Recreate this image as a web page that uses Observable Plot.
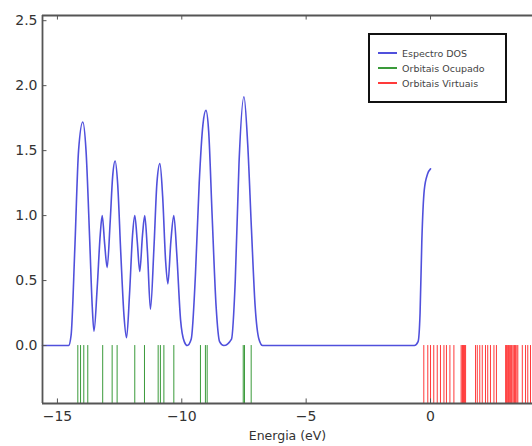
<!DOCTYPE html>
<html><head><meta charset="utf-8">
<script src="https://cdn.jsdelivr.net/npm/d3@7"></script>
<script src="https://cdn.jsdelivr.net/npm/@observablehq/plot@0.6"></script>
<style>
body{margin:0;background:#fff}
#wrap{position:relative;width:532px;height:446px;overflow:hidden}
#legend{position:absolute;left:368px;top:33px;width:139px;height:70px;border:2px solid #111;box-sizing:border-box;background:#fff;font-family:"DejaVu Sans",sans-serif;font-size:9.5px;color:#444}
.row{position:absolute;left:8px;height:14px;display:flex;align-items:center;white-space:nowrap}
.sw{display:inline-block;width:19px;height:1.5px;margin-right:5px}
</style>
</head><body><div id="wrap"></div>
<script>
// DOS curve (energy eV, density)
const dosE = [-15.6,-14.55,-14.45,-14.3,-14.15,-13.98,-13.85,-13.7,-13.6,-13.53,
  -13.4,-13.28,-13.2,-13.1,-13.0,
  -12.88,-12.78,-12.68,-12.58,-12.45,-12.32,-12.22,
  -12.1,-11.98,-11.89,-11.79,-11.69,
  -11.58,-11.49,-11.38,-11.26,
  -11.12,-11.0,-10.88,-10.77,-10.65,-10.56,
  -10.44,-10.32,-10.2,-10.05,-9.9,-9.78,-9.62,
  -9.45,-9.3,-9.15,-9.03,-8.92,-8.78,-8.62,-8.48,-8.31,
  -8.0,-7.85,-7.7,-7.5,-7.35,-7.2,-7.05,-6.9,-6.75,
  -0.65,-0.5,-0.42,-0.35,-0.25,-0.12,0.0];
const dosV = [0,0,0.08,0.75,1.5,1.72,1.5,0.8,0.3,0.11,
  0.45,0.85,1.0,0.78,0.6,
  0.95,1.3,1.42,1.25,0.7,0.22,0.06,
  0.4,0.85,1.0,0.8,0.57,
  0.85,1.0,0.72,0.28,
  0.75,1.25,1.4,1.15,0.65,0.475,
  0.8,1.0,0.7,0.2,0.03,0.0,0.05,
  0.55,1.25,1.7,1.81,1.65,1.0,0.3,0.03,0.0,
  0.05,0.5,1.4,1.915,1.55,0.9,0.3,0.05,0,
  0,0.03,0.25,0.8,1.2,1.32,1.36];
// occupied orbital energies (eV)
const occupied = [-14.18,-14.07,-13.94,-13.78,-13.18,-12.80,-12.60,-11.89,-11.50,
  -10.95,-10.86,-10.72,-10.32,-9.25,-9.05,-8.98,-7.53,-7.48,-7.21];
// virtual orbital energies (eV)
const virtual = [-0.27,-0.11,0.0,0.13,0.27,0.40,0.54,0.64,0.78,0.94,1.23,1.27,1.29,1.31,1.33,1.36,1.38,1.41,
  1.81,1.88,1.98,2.08,2.21,2.30,2.41,2.55,2.65,3.02,3.05,3.08,3.11,3.14,3.17,3.22,3.26,3.31,3.35,3.38,3.42,3.47,3.51,3.69,3.82,3.91,4.02];
const xTicks = [-15,-10,-5,0];
const yTicks = [0,0.5,1.0,1.5,2.0,2.5];
const xLabel = "Energia (eV)";
const legendLabels = ["Espectro DOS","Orbitais Ocupado","Orbitais Virtuais"];
const legendColors = ["#5050dc","#3a9a3a","#ff3a3a"];

const xMin = -15.6, xMax = 4.1, yMin = -0.446, yMax = 2.54;
const dos = dosE.map((e,i)=>({e, v: dosV[i]}));

const chart = Plot.plot({
  width: 532, height: 446,
  marginLeft: 42, marginRight: 0, marginTop: 15, marginBottom: 43,
  x: {domain: [xMin, xMax]},
  y: {domain: [yMin, yMax]},
  style: {fontFamily: "DejaVu Sans", fontSize: "14px", color: "#333", background: "#fff"},
  marks: [
    Plot.ruleX(occupied, {y1: 0, y2: yMin, stroke: legendColors[1], strokeWidth: 1}),
    Plot.ruleX(virtual, {y1: 0, y2: yMin, stroke: legendColors[2], strokeWidth: 1}),
    Plot.line(dos, {x: "e", y: "v", stroke: legendColors[0], strokeWidth: 1.6, curve: "monotone-x"}),
    Plot.ruleX([xMin], {stroke: "#555", strokeWidth: 1.8}),
    Plot.ruleY([yMin, yMax], {stroke: "#555", strokeWidth: 1.8}),
    Plot.ruleX(xTicks, {y1: yMin, y2: yMin + 0.035, stroke: "#555"}),
    Plot.ruleX(xTicks, {y1: yMax, y2: yMax - 0.035, stroke: "#555"}),
    Plot.ruleY(yTicks, {x1: xMin, x2: xMin + 0.18, stroke: "#555"}),
    Plot.axisX({ticks: xTicks, tickSize: 0, tickPadding: 8, label: null}),
    Plot.axisY({ticks: yTicks, tickSize: 0, tickPadding: 5, label: null, tickFormat: d3.format(".1f")}),
    Plot.text([xLabel], {frameAnchor: "bottom", dy: 36, text: d => d, fontSize: 12.5, fill: "#333"})
  ]
});
const wrap = document.getElementById("wrap");
wrap.appendChild(chart);
const lg = document.createElement("div");
lg.id = "legend";
legendLabels.forEach((t, i) => {
  const r = document.createElement("div");
  r.className = "row";
  r.style.top = (11 + i * 15) + "px";
  const s = document.createElement("span");
  s.className = "sw";
  s.style.backgroundColor = legendColors[i];
  const tx = document.createElement("span");
  tx.textContent = t;
  r.appendChild(s); r.appendChild(tx);
  lg.appendChild(r);
});
wrap.appendChild(lg);
</script>
</body></html>
